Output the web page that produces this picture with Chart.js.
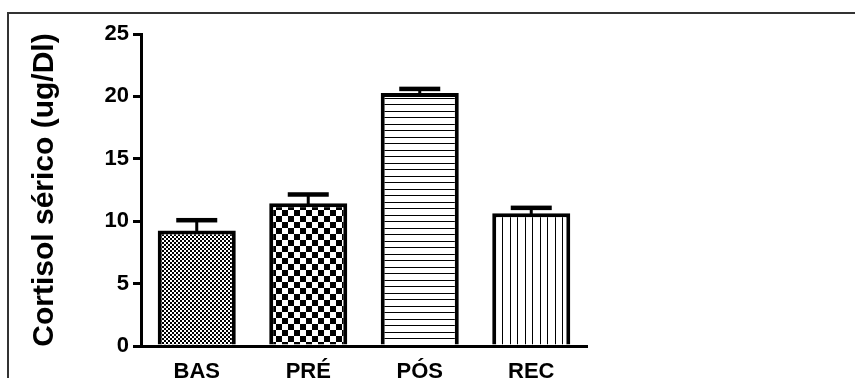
<!DOCTYPE html>
<html>
<head>
<meta charset="utf-8">
<script src="https://cdn.jsdelivr.net/npm/chart.js@4/dist/chart.umd.min.js"></script>
<style>
  html, body { margin: 0; padding: 0; background: #fff; }
  #wrap { position: relative; width: 855px; height: 378px; overflow: hidden; }
  #frame { position: absolute; left: 7px; top: 12px; width: 900px; height: 400px;
           border-left: 2px solid #333; border-top: 2px solid #333; pointer-events: none; }
  canvas { position: absolute; left: 0; top: 0; }
</style>
</head>
<body>
<div id="wrap">
  <canvas id="c" width="855" height="378"></canvas>
  <div id="frame"></div>
</div>
<script>
const categories = ['BAS', 'PRÉ', 'PÓS', 'REC'];
const means = [9.25, 11.44, 20.27, 10.64];
const errors = [0.85, 0.72, 0.35, 0.45];
const yTicks = [0, 5, 10, 15, 20, 25];
const yTitle = 'Cortisol sérico (ug/Dl)';

const FONT = "'Liberation Sans', Arial, sans-serif";

function makePattern(kind) {
  const c = document.createElement('canvas');
  const x = c.getContext('2d');
  if (kind === 'fineChecker') {
    c.width = 4; c.height = 4;
    x.fillStyle = '#fff'; x.fillRect(0, 0, 4, 4);
    x.fillStyle = '#000'; x.fillRect(0, 0, 2, 2); x.fillRect(2, 2, 2, 2);
  } else if (kind === 'coarseChecker') {
    c.width = 12; c.height = 12;
    x.fillStyle = '#fff'; x.fillRect(0, 0, 12, 12);
    x.fillStyle = '#000'; x.fillRect(0, 0, 6, 6); x.fillRect(6, 6, 6, 6);
  } else if (kind === 'hLines') {
    c.width = 4; c.height = 13;
    x.fillStyle = '#fff'; x.fillRect(0, 0, 4, 13);
    x.fillStyle = '#000'; x.fillRect(0, 0, 4, 1); x.fillRect(0, 7, 4, 1);
  } else {
    c.width = 15; c.height = 4;
    x.fillStyle = '#fff'; x.fillRect(0, 0, 15, 4);
    x.fillStyle = '#000'; x.fillRect(0, 0, 1, 4); x.fillRect(7, 0, 1, 4);
  }
  return document.getElementById('c').getContext('2d').createPattern(c, 'repeat');
}
const patterns = [makePattern('fineChecker'), makePattern('coarseChecker'), makePattern('hLines'), makePattern('vLines')];

const errorBars = {
  id: 'errorBars',
  afterDatasetsDraw(chart) {
    const ctx = chart.ctx;
    const meta = chart.getDatasetMeta(0);
    const y = chart.scales.y;
    ctx.save();
    ctx.fillStyle = '#000';
    meta.data.forEach((bar, i) => {
      const top = y.getPixelForValue(means[i] + errors[i]);
      const base = y.getPixelForValue(means[i]);
      ctx.fillRect(bar.x - 1.5, top, 3, base - top + 2);
      ctx.fillRect(bar.x - 20.5, top - 2, 41, 4.5);
    });
    ctx.restore();
  }
};

new Chart(document.getElementById('c'), {
  type: 'bar',
  data: {
    labels: categories,
    datasets: [{
      data: means,
      backgroundColor: patterns,
      borderColor: '#000',
      borderWidth: 4,
      borderSkipped: 'bottom',
      barPercentage: 0.70,
      categoryPercentage: 1.0
    }]
  },
  options: {
    responsive: false,
    animation: false,
    devicePixelRatio: 1,
    layout: { padding: { left: 0, top: 34, right: 268, bottom: 0 } },
    plugins: { legend: { display: false }, tooltip: { enabled: false } },
    scales: {
      x: {
        grid: { display: false, drawTicks: false },
        border: { display: true, color: '#000', width: 3 },
        ticks: { color: '#000', padding: 13, font: { family: FONT, size: 22, weight: 'bold' } },
        afterFit(s) { s.height = 32; }
      },
      y: {
        min: 0, max: 25,
        afterBuildTicks(s) { s.ticks = yTicks.map(v => ({ value: v })); },
        grid: { drawOnChartArea: false, drawTicks: true, tickLength: 8, color: '#000', lineWidth: 3 },
        border: { display: true, color: '#000', width: 3 },
        ticks: { color: '#000', padding: 4, font: { family: FONT, size: 22, weight: 'bold' } },
        title: {
          display: true, text: yTitle, color: '#000',
          font: { family: FONT, size: 30, weight: 'bold' },
          padding: { top: 27, bottom: 0 }
        },
        afterFit(s) { s.width = 141; }
      }
    }
  },
  plugins: [errorBars]
});
</script>
</body>
</html>
